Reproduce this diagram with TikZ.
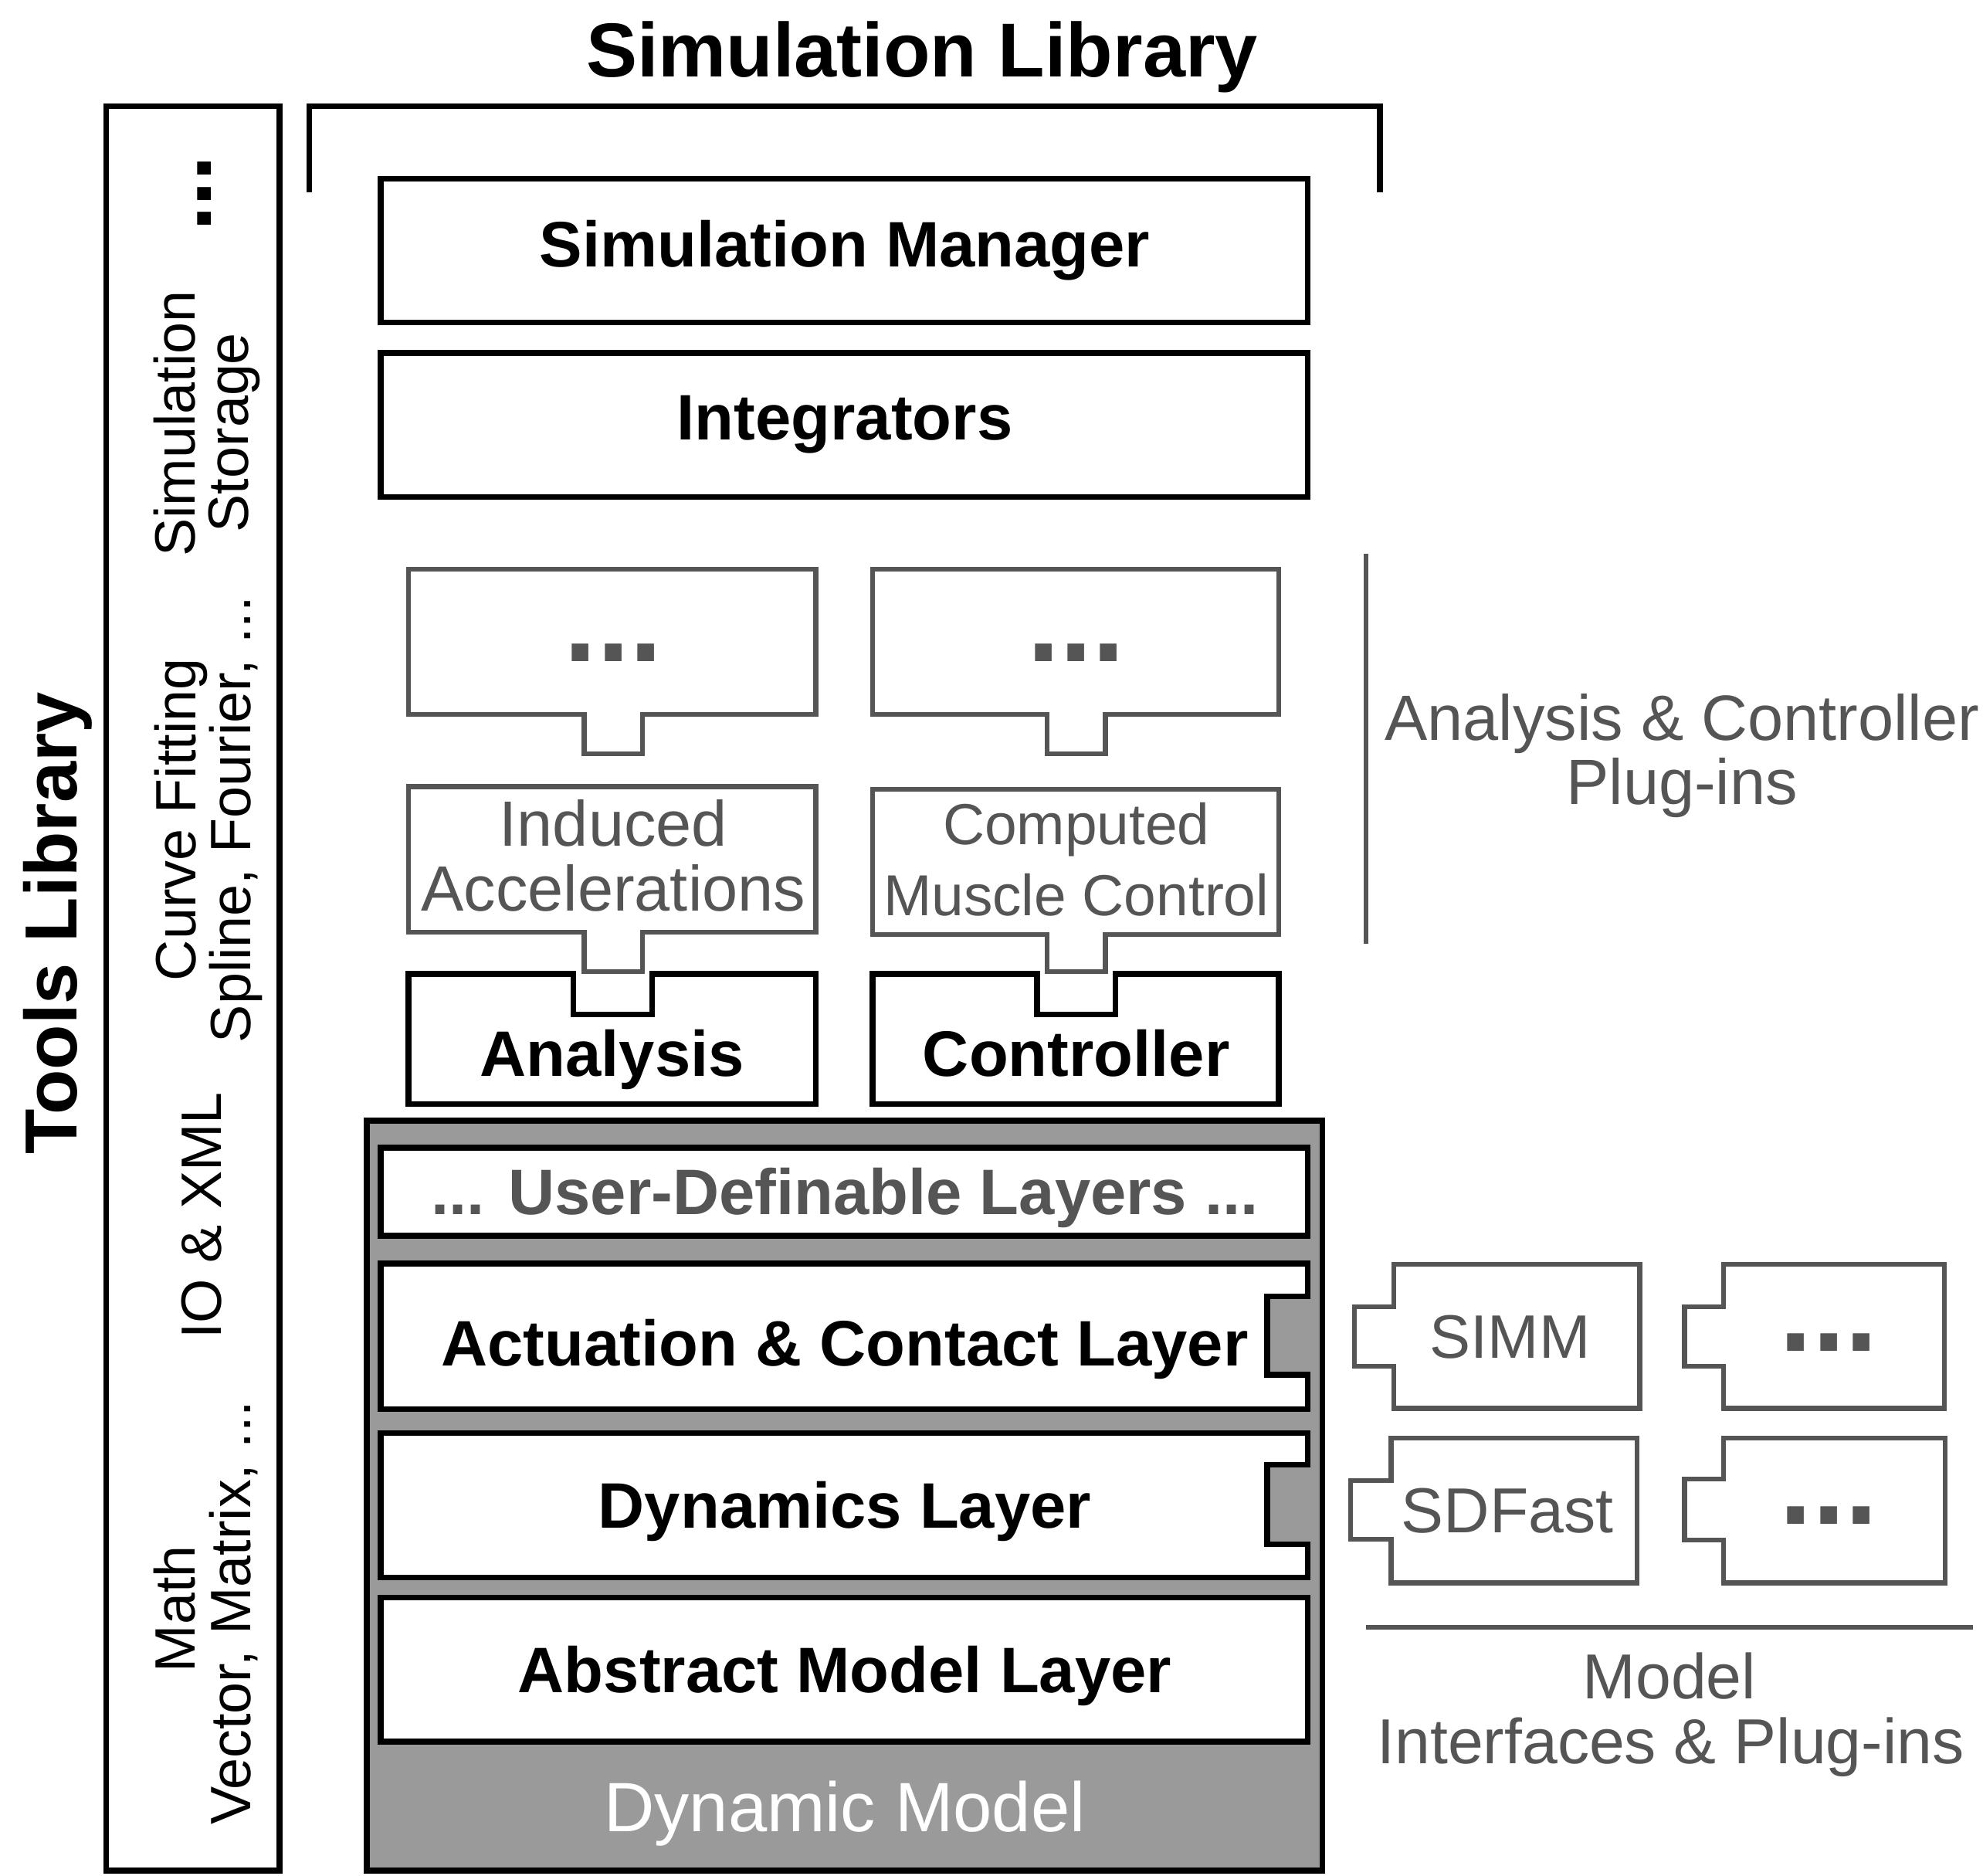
\documentclass[tikz,border=0pt]{standalone}
\usepackage{fontspec}
\setmainfont{Liberation Sans}
\definecolor{plug}{HTML}{555555}
\definecolor{dmfill}{HTML}{9A9A9A}
\begin{document}
\begin{tikzpicture}[x=0.01cm,y=-0.01cm,
  blk/.style={draw=black,line width=1.3pt,fill=white,line join=miter},
  gry/.style={draw=plug,line width=1.1pt,fill=white,line join=miter},
  lbl/.style={anchor=base,inner sep=0pt},
  bt/.style={lbl,font=\fontsize{14.45}{17}\selectfont\bfseries},
  gt/.style={lbl,text=plug,font=\fontsize{14.4}{17}\selectfont},
  tt/.style={lbl,rotate=90,font=\fontsize{12.8}{15}\selectfont},
  dots/.style={lbl,text=plug,font=\fontsize{26.5}{30}\selectfont\bfseries},
  big/.style={lbl,font=\fontsize{17.2}{20}\selectfont\bfseries}
]
\useasboundingbox (0,0) rectangle (1568,1483);

% titles
\node[big] (simlib) at (729,61) {Simulation Library};
\node[big,rotate=90,font=\fontsize{16.6}{20}\selectfont\bfseries] (toolslib) at (61,730) {Tools Library};

% tools library box
\draw[blk,fill=none] (84,84) rectangle (221,1479);
\node[tt] (math1) at (154,1272) {Math};
\node[tt] (math2) at (198,1275) {Vector, Matrix, ...};
\node[tt] (io) at (175,961) {IO \& XML};
\node[tt] (cf1) at (155,648) {Curve Fitting};
\node[tt] (cf2) at (198,648) {Spline, Fourier, ...};
\node[tt] (ss1) at (154,335) {Simulation};
\node[tt] (ss2) at (196,342) {Storage};
\node[lbl,rotate=90,font=\fontsize{20.6}{24}\selectfont\bfseries] (tdots) at (167,153) {...};

% simulation library bracket
\coordinate (brA) at (244.5,152);
\coordinate (brB) at (244.5,84);
\coordinate (brC) at (1091,84);
\coordinate (brD) at (1091,152);
\draw[line width=1.3pt,line join=miter] (brA) -- (brB) -- (brC) -- (brD);

% simulation manager, integrators
\draw[blk] (301,141.5) rectangle (1034,255);
\node[bt] (simman) at (668,211) {Simulation Manager};
\draw[blk] (301,279) rectangle (1034,393);
\node[bt] (integ) at (668,348) {Integrators};

% analysis column
\draw[gry] (323,450) -- (645,450) -- (645,565) -- (508,565) -- (508,596) -- (462,596) -- (462,565) -- (323,565) -- cycle;
\node[dots] (adots) at (485,523) {...};
\draw[gry] (323,622) -- (645,622) -- (645,737) -- (508,737) -- (508,768) -- (462,768) -- (462,737) -- (323,737) -- cycle;
\node[gt] (ia1) at (485,669) {Induced};
\node[gt] (ia2) at (485,720) {Accelerations};
\draw[blk] (323,770) -- (453.5,770) -- (453.5,802) -- (515.5,802) -- (515.5,770) -- (645,770) -- (645,873) -- (323,873) -- cycle;
\node[bt] (analysis) at (484,851) {Analysis};

% controller column
\draw[gry] (690,450) -- (1011,450) -- (1011,565) -- (874,565) -- (874,596) -- (828,596) -- (828,565) -- (690,565) -- cycle;
\node[dots] (cdots) at (851,523) {...};
\draw[gry] (690,624) -- (1011,624) -- (1011,739) -- (874,739) -- (874,768) -- (828,768) -- (828,739) -- (690,739) -- cycle;
\node[gt,font=\fontsize{13}{16}\selectfont] (cmc1) at (851,668) {Computed};
\node[gt,font=\fontsize{13}{16}\selectfont] (cmc2) at (851,724) {Muscle Control};
\draw[blk] (690,770) -- (820,770) -- (820,802) -- (882,802) -- (882,770) -- (1011,770) -- (1011,873) -- (690,873) -- cycle;
\node[bt] (controller) at (851,851) {Controller};

% analysis & controller plug-ins label
\coordinate (vlA) at (1080,438);
\coordinate (vlB) at (1080,746);
\draw[draw=plug,line width=1.1pt] (vlA) -- (vlB);
\node[gt] (acp1) at (1330,585) {Analysis \& Controller};
\node[gt] (acp2) at (1330,636) {Plug-ins};

% dynamic model
\draw[draw=black,fill=dmfill,line width=1.3pt] (290,886) rectangle (1045.5,1479);
\node[lbl,text=white,font=\fontsize{15.7}{19}\selectfont] (dm) at (668,1448) {Dynamic Model};
\draw[blk] (301,907.5) rectangle (1034,977);
\node[bt,text=plug] (udl) at (668,960) {... User-Definable Layers ...};
\draw[blk] (301,999) -- (1034,999) -- (1034,1025) -- (1002,1025) -- (1002,1087) -- (1034,1087) -- (1034,1114) -- (301,1114) -- cycle;
\node[bt] (act) at (668,1080) {Actuation \& Contact Layer};
\draw[blk] (301,1133) -- (1034,1133) -- (1034,1158) -- (1002,1158) -- (1002,1221) -- (1034,1221) -- (1034,1247) -- (301,1247) -- cycle;
\node[bt] (dyn) at (668,1208) {Dynamics Layer};
\draw[blk] (301,1263) rectangle (1034,1377);
\node[bt] (abs) at (668,1338) {Abstract Model Layer};

% model plug-ins
\draw[gry] (1102,999.5) -- (1296.5,999.5) -- (1296.5,1113.5) -- (1102,1113.5) -- (1102,1080) -- (1071,1080) -- (1071,1033) -- (1102,1033) -- cycle;
\node[gt,font=\fontsize{13.8}{16}\selectfont] (simm) at (1194,1074) {SIMM};
\draw[gry] (1363,999.5) -- (1537.5,999.5) -- (1537.5,1113.5) -- (1363,1113.5) -- (1363,1080) -- (1332,1080) -- (1332,1033) -- (1363,1033) -- cycle;
\node[dots] (mdots1) at (1446,1068) {...};
\draw[gry] (1100,1137) -- (1294.5,1137) -- (1294.5,1251.5) -- (1100,1251.5) -- (1100,1217) -- (1068,1217) -- (1068,1170.5) -- (1100,1170.5) -- cycle;
\node[gt,font=\fontsize{14.3}{17}\selectfont] (sdfast) at (1192,1212) {SDFast};
\draw[gry] (1363,1137) -- (1538,1137) -- (1538,1251.5) -- (1363,1251.5) -- (1363,1217.5) -- (1332,1217.5) -- (1332,1169.5) -- (1363,1169.5) -- cycle;
\node[dots] (mdots2) at (1446,1205) {...};

% model interfaces label
\coordinate (hlA) at (1080,1286.5);
\coordinate (hlB) at (1560,1286.5);
\draw[draw=plug,line width=1.1pt] (hlA) -- (hlB);
\node[gt,font=\fontsize{14.3}{17}\selectfont] (mi1) at (1320,1343) {Model};
\node[gt,font=\fontsize{14.3}{17}\selectfont] (mi2) at (1321,1394) {Interfaces \& Plug-ins};
\end{tikzpicture}
\end{document}
